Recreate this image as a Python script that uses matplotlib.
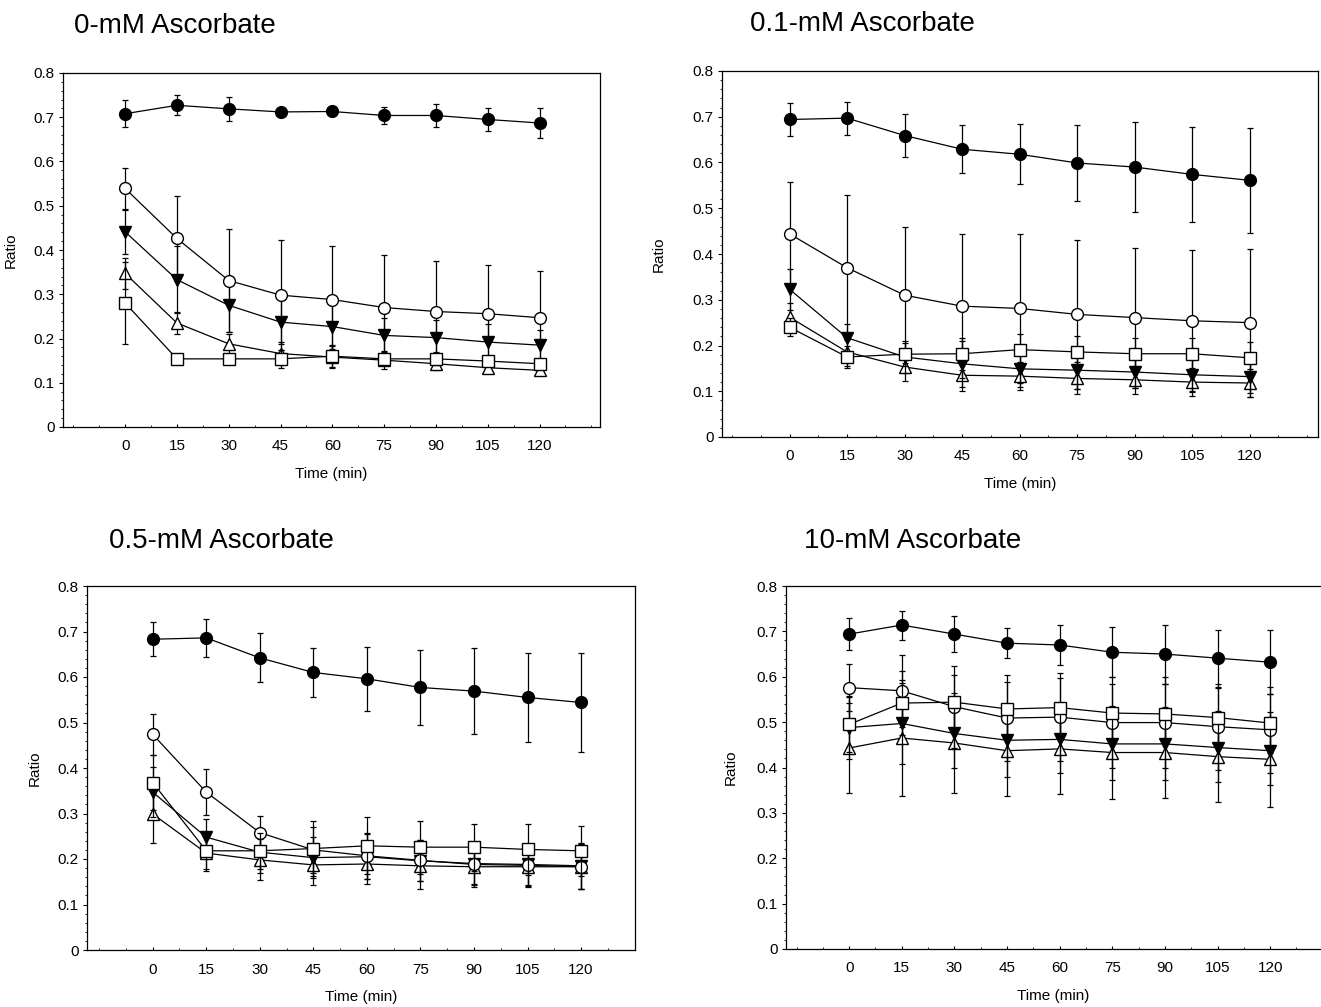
import matplotlib.pyplot as plt
import numpy as np
from matplotlib.ticker import MultipleLocator

plt.rcParams['font.family'] = ['Liberation Sans', 'DejaVu Sans']

time = [0, 15, 30, 45, 60, 75, 90, 105, 120]
titles = ['0-mM Ascorbate', '0.1-mM Ascorbate', '0.5-mM Ascorbate', '10-mM Ascorbate']

# 0 mM
p1_fc = [0.708, 0.727, 0.719, 0.712, 0.713, 0.704, 0.704, 0.695, 0.687]
p1_fc_err = [0.030, 0.023, 0.027, 0.006, 0.010, 0.020, 0.027, 0.027, 0.034]
p1_oc = [0.539, 0.426, 0.331, 0.298, 0.288, 0.270, 0.261, 0.256, 0.247]
p1_oc_err = [0.047, 0.096, 0.116, 0.125, 0.120, 0.118, 0.114, 0.111, 0.106]
p1_ft = [0.441, 0.333, 0.275, 0.237, 0.227, 0.207, 0.202, 0.192, 0.185]
p1_ft_err = [0.050, 0.075, 0.060, 0.050, 0.050, 0.040, 0.040, 0.040, 0.035]
p1_ot = [0.347, 0.235, 0.188, 0.166, 0.158, 0.151, 0.143, 0.134, 0.128]
p1_ot_err = [0.035, 0.025, 0.022, 0.025, 0.025, 0.020, 0.015, 0.010, 0.010]
p1_sq = [0.280, 0.154, 0.154, 0.154, 0.160, 0.154, 0.154, 0.149, 0.143]
p1_sq_err = [0.093, 0.005, 0.010, 0.020, 0.025, 0.015, 0.015, 0.010, 0.010]

# 0.1 mM
p2_fc = [0.694, 0.697, 0.659, 0.629, 0.618, 0.599, 0.590, 0.574, 0.561]
p2_fc_err = [0.035, 0.036, 0.048, 0.052, 0.066, 0.083, 0.098, 0.104, 0.115]
p2_oc = [0.444, 0.370, 0.310, 0.286, 0.281, 0.268, 0.261, 0.254, 0.250]
p2_oc_err = [0.113, 0.158, 0.148, 0.158, 0.163, 0.163, 0.153, 0.155, 0.162]
p2_ft = [0.323, 0.217, 0.175, 0.160, 0.149, 0.146, 0.142, 0.136, 0.132]
p2_ft_err = [0.045, 0.030, 0.035, 0.050, 0.040, 0.040, 0.035, 0.035, 0.035]
p2_ot = [0.262, 0.186, 0.153, 0.135, 0.133, 0.128, 0.125, 0.120, 0.118]
p2_ot_err = [0.030, 0.030, 0.030, 0.035, 0.030, 0.035, 0.030, 0.030, 0.030]
p2_sq = [0.240, 0.175, 0.181, 0.182, 0.191, 0.186, 0.182, 0.182, 0.173]
p2_sq_err = [0.020, 0.025, 0.025, 0.035, 0.035, 0.035, 0.035, 0.035, 0.035]

# 0.5 mM
p3_fc = [0.683, 0.686, 0.642, 0.610, 0.596, 0.577, 0.569, 0.555, 0.544]
p3_fc_err = [0.037, 0.042, 0.054, 0.054, 0.070, 0.082, 0.094, 0.098, 0.108]
p3_oc = [0.474, 0.347, 0.258, 0.220, 0.207, 0.197, 0.188, 0.186, 0.183]
p3_oc_err = [0.045, 0.050, 0.036, 0.050, 0.050, 0.045, 0.045, 0.045, 0.050]
p3_ft = [0.347, 0.248, 0.215, 0.203, 0.205, 0.196, 0.190, 0.188, 0.185]
p3_ft_err = [0.055, 0.040, 0.045, 0.045, 0.050, 0.045, 0.045, 0.045, 0.050]
p3_ot = [0.299, 0.213, 0.198, 0.187, 0.189, 0.185, 0.183, 0.183, 0.183]
p3_ot_err = [0.063, 0.040, 0.045, 0.045, 0.045, 0.050, 0.045, 0.045, 0.050]
p3_sq = [0.368, 0.218, 0.218, 0.223, 0.229, 0.226, 0.226, 0.221, 0.218]
p3_sq_err = [0.060, 0.040, 0.040, 0.060, 0.063, 0.058, 0.052, 0.057, 0.055]

# 10 mM
p4_fc = [0.694, 0.714, 0.694, 0.674, 0.670, 0.654, 0.650, 0.641, 0.632]
p4_fc_err = [0.035, 0.032, 0.040, 0.033, 0.044, 0.055, 0.065, 0.063, 0.070]
p4_oc = [0.576, 0.569, 0.534, 0.509, 0.511, 0.499, 0.499, 0.490, 0.483]
p4_oc_err = [0.052, 0.080, 0.090, 0.095, 0.097, 0.100, 0.100, 0.095, 0.095]
p4_ft = [0.488, 0.497, 0.475, 0.460, 0.462, 0.452, 0.452, 0.444, 0.437]
p4_ft_err = [0.070, 0.090, 0.075, 0.080, 0.075, 0.080, 0.080, 0.075, 0.075]
p4_ot = [0.443, 0.465, 0.454, 0.437, 0.441, 0.433, 0.433, 0.424, 0.418]
p4_ot_err = [0.100, 0.127, 0.110, 0.100, 0.100, 0.103, 0.100, 0.100, 0.105]
p4_sq = [0.495, 0.542, 0.544, 0.529, 0.532, 0.520, 0.518, 0.510, 0.498]
p4_sq_err = [0.060, 0.070, 0.060, 0.060, 0.065, 0.065, 0.065, 0.065, 0.065]

panels = [
    (p1_fc, p1_fc_err, p1_oc, p1_oc_err, p1_ft, p1_ft_err, p1_ot, p1_ot_err, p1_sq, p1_sq_err),
    (p2_fc, p2_fc_err, p2_oc, p2_oc_err, p2_ft, p2_ft_err, p2_ot, p2_ot_err, p2_sq, p2_sq_err),
    (p3_fc, p3_fc_err, p3_oc, p3_oc_err, p3_ft, p3_ft_err, p3_ot, p3_ot_err, p3_sq, p3_sq_err),
    (p4_fc, p4_fc_err, p4_oc, p4_oc_err, p4_ft, p4_ft_err, p4_ot, p4_ot_err, p4_sq, p4_sq_err),
]

W, H = 1321, 1007
# axes boxes in pixels: left, right, top, bottom
boxes = [(63, 600, 73, 427), (722, 1318, 71, 437), (87, 635, 586, 950), (786, 1321, 586, 949)]
xlims = [(-18, 137.5), (-17.6, 137.8), (-18.4, 135.1), (-18, 134.5)]
title_pos = [(74, 33), (750, 31), (109, 548), (804, 548)]
ylabel_x = [18, 666, 42, 738]

fig = plt.figure(figsize=(W / 100, H / 100), dpi=100)

for i, data in enumerate(panels):
    l, r, t, b = boxes[i]
    ax = fig.add_axes([l / W, 1 - b / H, (r - l) / W, (b - t) / H])
    fc, fc_e, oc, oc_e, ft, ft_e, ot, ot_e, sq, sq_e = data
    series = [
        (ot, ot_e, '^', 'white', 3),
        (ft, ft_e, 'v', 'black', 4),
        (oc, oc_e, 'o', 'white', 5),
        (sq, sq_e, 's', 'white', 6),
        (fc, fc_e, 'o', 'black', 7),
    ]
    for y, e, m, face, z in series:
        ax.errorbar(time, y, yerr=e, fmt='-', color='black', lw=0.9,
                    elinewidth=0.9, capsize=2.5, capthick=0.9, zorder=z)
        ax.plot(time, y, linestyle='none', marker=m, markersize=8.5,
                markerfacecolor=face, markeredgecolor='black', markeredgewidth=1.0,
                zorder=z + 0.5)
    ax.set_xlim(*xlims[i])
    ax.set_ylim(0, 0.8)
    ax.set_xticks(time)
    ax.set_yticks(np.arange(0, 0.81, 0.1))
    ax.set_yticklabels(['0'] + ['%.1f' % v for v in np.arange(0.1, 0.81, 0.1)])
    ax.yaxis.set_minor_locator(MultipleLocator(0.02))
    ax.xaxis.set_minor_locator(MultipleLocator(7.5))
    ax.tick_params(axis='y', which='major', direction='out', length=3, width=0.8, labelsize=11, pad=3)
    ax.tick_params(axis='y', which='minor', direction='out', length=1.5, width=0.6)
    ax.tick_params(axis='x', which='major', direction='in', length=2.5, width=0.8, labelsize=11, pad=9)
    ax.tick_params(axis='x', which='minor', direction='in', length=1.5, width=0.6)
    for s in ax.spines.values():
        s.set_linewidth(0.9)
    if i == 3:
        ax.spines['right'].set_visible(False)
    ax.set_xlabel('Time (min)', fontsize=11, labelpad=10)
    ax.set_ylabel('Ratio', fontsize=11)
    ax.yaxis.set_label_coords((ylabel_x[i] - l) / (r - l), 0.5)
    tx, ty = title_pos[i]
    fig.text(tx / W, 1 - ty / H, titles[i], fontsize=20, ha='left', va='baseline')

fig.savefig('out.png', dpi=100)
